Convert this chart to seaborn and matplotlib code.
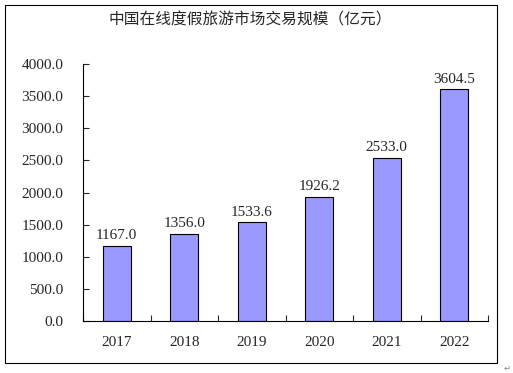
import numpy as np
import pandas as pd
import matplotlib
matplotlib.use("Agg")
import matplotlib.pyplot as plt
import seaborn as sns
from matplotlib.patches import Rectangle

# data
years = ["2017", "2018", "2019", "2020", "2021", "2022"]
values = [1167.0, 1356.0, 1533.6, 1926.2, 2533.0, 3604.5]
title = "中国在线度假旅游市场交易规模（亿元）"

df = pd.DataFrame({"year": years, "value": values})

sns.set_style("white")
plt.rcParams["font.family"] = ["Liberation Serif", "Noto Sans CJK SC", "DejaVu Sans"]

fig = plt.figure(figsize=(5.13, 3.73), dpi=100)
ax = fig.add_axes([83 / 513, 1 - 321 / 373, (488 - 83) / 513, (321 - 64) / 373])

sns.barplot(data=df, x="year", y="value", color="#9999ff", saturation=1,
            edgecolor="black", linewidth=0.8, width=0.41, ax=ax)

# value labels above bars
for i, v in enumerate(values):
    ax.text(i, v + 60, f"{v:.1f}", ha="center", va="bottom", fontsize=11)

ax.set_ylim(0, 4000)
ax.set_yticks(np.arange(0, 4001, 500))
ax.set_yticklabels([f"{t:.1f}" for t in np.arange(0, 4001, 500)], fontsize=11)
ax.set_xlim(-0.5, len(years) - 0.5)
ax.set_xticks(range(len(years)))
ax.set_xticklabels(years, fontsize=11)
ax.tick_params(axis="x", length=0, pad=11)
ax.tick_params(axis="y", direction="in", length=4, width=0.8, pad=14, left=True)
# category boundary ticks on the x axis
ax.set_xticks(np.arange(-0.5, len(years), 1), minor=True)
ax.tick_params(axis="x", which="minor", direction="in", length=4, width=0.8, bottom=True)
ax.set_xlabel("")
ax.set_ylabel("")
for s in ["top", "right"]:
    ax.spines[s].set_visible(False)
for s in ["left", "bottom"]:
    ax.spines[s].set_color("black")
    ax.spines[s].set_linewidth(0.8)

fig.text(250 / 513, 1 - 20 / 373, title, ha="center", va="center", fontsize=11.3,
         family=["Noto Sans CJK SC", "DejaVu Sans"])

# outer frame
fig.patches.append(Rectangle((5 / 513, 1 - 363 / 373), (497 - 5) / 513, (363 - 5) / 373,
                             transform=fig.transFigure, fill=False,
                             edgecolor="black", linewidth=0.8))
fig.text(507 / 513, 1 - 368 / 373, "↵", ha="center", va="center", fontsize=6,
         color="#888888", family=["DejaVu Sans"])

fig.savefig("out.png", dpi=100)
